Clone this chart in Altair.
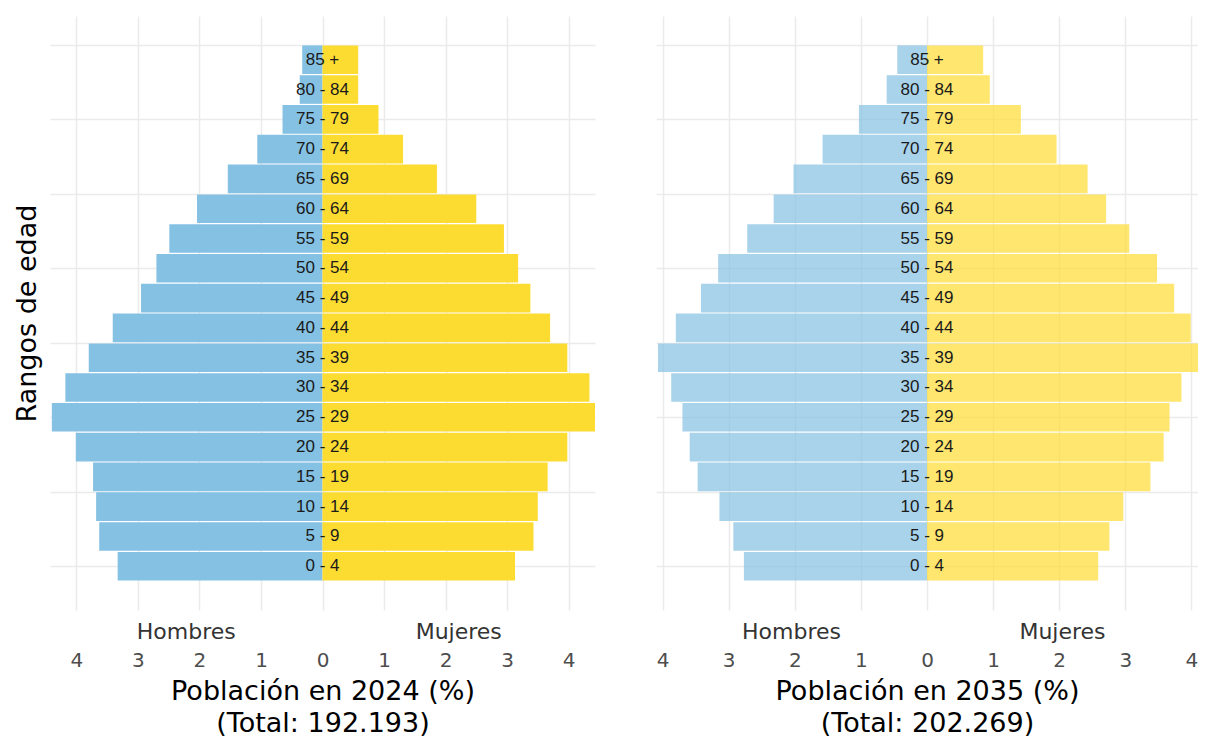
import altair as alt
import pandas as pd

# ---- data ----
edades = ["0 - 4", "5 - 9", "10 - 14", "15 - 19", "20 - 24", "25 - 29", "30 - 34",
          "35 - 39", "40 - 44", "45 - 49", "50 - 54", "55 - 59", "60 - 64",
          "65 - 69", "70 - 74", "75 - 79", "80 - 84", "85 +"]

hombres_2024 = [3.33, 3.63, 3.68, 3.73, 4.01, 4.40, 4.18, 3.80, 3.41, 2.95,
                2.70, 2.49, 2.04, 1.54, 1.06, 0.65, 0.37, 0.33]
mujeres_2024 = [3.13, 3.43, 3.50, 3.66, 3.98, 4.43, 4.34, 3.98, 3.70, 3.38,
                3.18, 2.95, 2.50, 1.86, 1.31, 0.91, 0.58, 0.58]

hombres_2035 = [2.77, 2.93, 3.14, 3.47, 3.59, 3.70, 3.87, 4.07, 3.80, 3.42,
                3.16, 2.72, 2.32, 2.02, 1.58, 1.03, 0.61, 0.45]
mujeres_2035 = [2.59, 2.76, 2.97, 3.38, 3.58, 3.67, 3.85, 4.10, 3.99, 3.74,
                3.48, 3.06, 2.71, 2.43, 1.96, 1.42, 0.95, 0.85]

sexos = ["Hombres", "Mujeres"]
titulo_2024 = ["Población en 2024 (%)", "(Total: 192.193)"]
titulo_2035 = ["Población en 2035 (%)", "(Total: 202.269)"]
titulo_y = "Rangos de edad"

ticks_x = [-4, -3.5, -3, -2.5, -2, -1.5, -1, -0.5, 0, 0.5, 1, 1.5, 2, 2.5, 3, 3.5, 4]
grid_y = [1, 3.5, 6, 8.5, 11, 13.5, 16, 18.5]

AZUL = "#85C1E3"
AMARILLO = "#FDDC32"


def panel(hombres, mujeres, limite, titulo, opacidad, con_titulo_y, ancho):
    n = len(edades)
    df = pd.DataFrame({
        "edad": edades * 2,
        "idx": list(range(1, n + 1)) * 2,
        "sexo": [sexos[0]] * n + [sexos[1]] * n,
        "valor": [-v for v in hombres] + list(mujeres),
    })
    df_txt = pd.DataFrame({"edad": edades, "idx": list(range(1, n + 1))})
    df_sexo = pd.DataFrame({"sexo": sexos, "signo": [-1, 1]})

    xscale = alt.Scale(domain=[-limite, limite], nice=False, zero=False)
    yscale = alt.Scale(domain=[-0.3, 19.3], nice=False, zero=False)

    xaxis = alt.Axis(values=ticks_x, title=titulo, grid=True, ticks=False, domain=False,
                     labelExpr="datum.value % 1 == 0 ? format(abs(datum.value), 'd') : ''",
                     labelPadding=40, titlePadding=8, labelFlush=False, labelOverlap=False)
    if con_titulo_y:
        yaxis = alt.Axis(values=grid_y, labels=False, ticks=False, domain=False, grid=True,
                         title=titulo_y, titlePadding=9)
    else:
        yaxis = alt.Axis(values=grid_y, labels=False, ticks=False, domain=False, grid=True,
                         title=None)

    barras = alt.Chart(df).mark_bar(orient="horizontal", size=28.6, opacity=opacidad).encode(
        x=alt.X("valor:Q", scale=xscale, axis=xaxis, stack=None),
        y=alt.Y("idx:Q", scale=yscale, axis=yaxis),
        color=alt.Color("sexo:N", scale=alt.Scale(domain=sexos, range=[AZUL, AMARILLO]),
                        legend=None),
    )

    etiquetas = alt.Chart(df_txt).mark_text(
        font="Liberation Sans", fontSize=17, color="#1a1a1a", align="center", baseline="middle"
    ).encode(
        x=alt.datum(0),
        y=alt.Y("idx:Q"),
        text="edad:N",
    )

    sexo_txt = alt.Chart(df_sexo).transform_calculate(
        pos=f"datum.signo * {limite} / 2"
    ).mark_text(
        font="DejaVu Sans", fontSize=22, color="#333333", align="center", baseline="middle"
    ).encode(
        x=alt.X("pos:Q"),
        y=alt.value(616),
        text="sexo:N",
    )

    return alt.layer(barras, etiquetas, sexo_txt).properties(width=ancho, height=594)


p1 = panel(hombres_2024, mujeres_2024, 4.43, titulo_2024, 1.0, True, 545)
p2 = panel(hombres_2035, mujeres_2035, 4.10, titulo_2035, 0.7, False, 542)

chart = alt.hconcat(p1, p2, spacing=61).properties(
    padding={"left": 5, "top": 8, "right": 0, "bottom": 0}
).configure_view(
    stroke=None
).configure_axis(
    gridColor="#EBEBEB",
    gridWidth=1.5,
    labelFont="DejaVu Sans",
    labelFontSize=20,
    labelColor="#4D4D4D",
    titleFont="DejaVu Sans",
    titleFontSize=27,
    titleColor="#000000",
    titleFontWeight="normal",
    titleLineHeight=32,
)

chart.save("out.html", embed_options={"renderer": "svg", "actions": False})
